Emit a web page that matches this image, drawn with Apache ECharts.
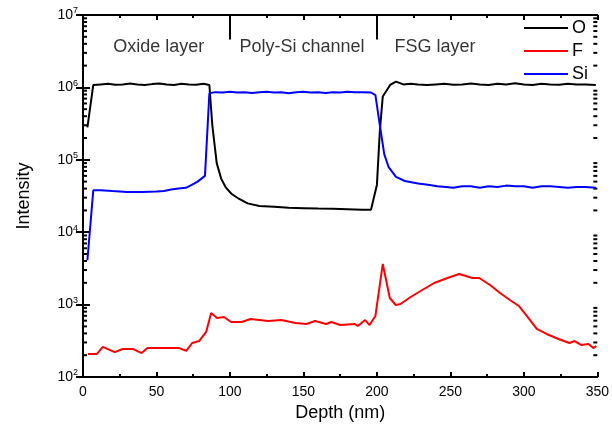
<!DOCTYPE html>
<html>
<head>
<meta charset="utf-8">
<script src="https://cdn.jsdelivr.net/npm/echarts@6/dist/echarts.min.js"></script>
<style>
  html, body { margin: 0; padding: 0; background: #fff; }
  #main { width: 612px; height: 432px; }
</style>
</head>
<body>
<div id="main"></div>
<script>
// depth (nm) / intensity for each element
var oDepth = [3, 7, 12, 17, 22, 27, 32, 37, 42, 47, 52, 57, 62, 67, 72, 77, 82, 86, 88, 91, 94, 97, 101, 106, 112, 120, 130, 140, 150, 160, 170, 180, 190, 196, 200, 202, 204, 209, 213, 218, 223, 228, 234, 240, 246, 252, 258, 264, 270, 276, 282, 288, 294, 300, 306, 312, 318, 324, 330, 336, 342, 349];
var oIntensity = [2.8e5, 1.08e6, 1.1e6, 1.12e6, 1.09e6, 1.1e6, 1.13e6, 1.1e6, 1.08e6, 1.11e6, 1.13e6, 1.1e6, 1.08e6, 1.12e6, 1.1e6, 1.09e6, 1.12e6, 1.08e6, 3.0e5, 9.0e4, 5.5e4, 4.2e4, 3.4e4, 2.9e4, 2.5e4, 2.3e4, 2.25e4, 2.18e4, 2.15e4, 2.12e4, 2.1e4, 2.08e4, 2.05e4, 2.05e4, 4.5e4, 2.5e5, 7.5e5, 1.08e6, 1.2e6, 1.1e6, 1.12e6, 1.1e6, 1.08e6, 1.1e6, 1.12e6, 1.09e6, 1.1e6, 1.13e6, 1.1e6, 1.08e6, 1.12e6, 1.1e6, 1.14e6, 1.1e6, 1.08e6, 1.12e6, 1.1e6, 1.09e6, 1.12e6, 1.1e6, 1.1e6, 1.08e6];

var fDepth = [3.4, 9.5, 13.5, 21.6, 27, 33.8, 39.9, 43.9, 55, 65.5, 70.3, 74.3, 79, 83.8, 87.2, 91.2, 96, 100.7, 108, 114, 126, 135, 144.6, 152, 158, 165.5, 169, 175, 185, 187, 192, 195, 199, 204, 208.8, 212.8, 216, 223, 229.7, 239, 248, 256, 265, 269.6, 277, 283.8, 290.5, 296.6, 302, 308.8, 315.5, 323.6, 331, 334.5, 339, 344, 347.3, 349.3];
var fIntensity = [208, 208, 260, 221, 244, 244, 214, 251, 251, 251, 229, 295, 314, 419, 766, 653, 674, 575, 575, 633, 593, 612, 557, 540, 593, 540, 575, 522, 540, 506, 612, 522, 697, 3640, 1233, 987, 1018, 1273, 1541, 1988, 2330, 2647, 2330, 2330, 1866, 1446, 1158, 957, 697, 461, 393, 335, 295, 314, 277, 286, 251, 268];

var siDepth = [3, 7, 12, 20, 30, 40, 50, 55, 60, 65, 70, 74, 78, 83, 86, 90, 95, 100, 105, 110, 115, 120, 125, 130, 135, 140, 145, 150, 155, 160, 165, 170, 175, 180, 185, 190, 196, 199, 202, 205, 208, 213, 219, 228, 236, 241, 247, 252, 258, 264, 270, 276, 282, 288, 294, 300, 306, 312, 318, 324, 330, 336, 342, 349];
var siIntensity = [4.1e3, 3.8e4, 3.8e4, 3.7e4, 3.6e4, 3.6e4, 3.65e4, 3.7e4, 3.9e4, 4.0e4, 4.1e4, 4.5e4, 5.0e4, 6.0e4, 8.3e5, 8.6e5, 8.5e5, 8.7e5, 8.5e5, 8.6e5, 8.4e5, 8.6e5, 8.7e5, 8.5e5, 8.6e5, 8.3e5, 8.6e5, 8.7e5, 8.5e5, 8.6e5, 8.4e5, 8.6e5, 8.5e5, 8.7e5, 8.6e5, 8.6e5, 8.5e5, 7.8e5, 3.0e5, 1.2e5, 7.9e4, 5.8e4, 5.1e4, 4.7e4, 4.5e4, 4.3e4, 4.2e4, 4.1e4, 4.3e4, 4.3e4, 4.1e4, 4.3e4, 4.2e4, 4.4e4, 4.3e4, 4.3e4, 4.1e4, 4.3e4, 4.3e4, 4.2e4, 4.1e4, 4.2e4, 4.2e4, 4.1e4];

// layer names and where they sit (depth nm, intensity)
var layerNames = ['Oxide layer', 'Poly-Si channel', 'FSG layer'];
var layerDepth = [51.5, 149, 239.5];
var layerIntensity = 3.6e6;
// layer boundaries drawn from the top
var boundaryDepth = [100, 200];

var FONT = '"Liberation Sans", Arial, sans-serif';

function pairs(xs, ys) {
    var d = [];
    for (var i = 0; i < xs.length; i++) {
        d.push([xs[i], ys[i]]);
    }
    return d;
}

// minor ticks of the log axis (2..9 in every decade)
var minorTicks = [];
for (var e = 2; e < 7; e++) {
    for (var m = 2; m <= 9; m++) {
        minorTicks.push([0, m * Math.pow(10, e)]);
    }
}

var myChart = echarts.init(document.getElementById('main'));

var axisLine = { show: true, lineStyle: { color: '#000', width: 2 } };

var option = {
    animation: false,
    textStyle: { fontFamily: FONT },
    grid: { left: 83, right: 11, top: 15, bottom: 55 },
    legend: {
        orient: 'vertical',
        left: 519,
        top: 14,
        icon: 'rect',
        itemWidth: 44,
        itemHeight: 2,
        itemGap: 5,
        textStyle: { fontFamily: FONT, fontSize: 18, color: '#000', padding: [0, 0, 0, -1] },
        data: ['O', 'F', 'Si']
    },
    xAxis: [
        {
            type: 'value', min: 0, max: 350, interval: 50,
            name: 'Depth (nm)', nameLocation: 'middle', nameGap: 23,
            nameTextStyle: { fontFamily: FONT, fontSize: 18, color: '#000' },
            axisLine: axisLine,
            axisTick: { inside: true, length: 5, lineStyle: { color: '#000', width: 2 } },
            minorTick: { show: true, splitNumber: 2, length: 3, lineStyle: { color: '#000', width: 2 } },
            axisLabel: { fontFamily: FONT, fontSize: 14, color: '#000', margin: 8 },
            splitLine: { show: false }
        },
        {
            type: 'value', min: 0, max: 350, interval: 50, position: 'top',
            axisLine: axisLine,
            axisTick: { inside: true, length: 5, lineStyle: { color: '#000', width: 2 } },
            minorTick: { show: true, splitNumber: 2, length: 3, lineStyle: { color: '#000', width: 2 } },
            axisLabel: { show: false },
            splitLine: { show: false }
        }
    ],
    yAxis: [
        {
            type: 'log', min: 100, max: 1e7, logBase: 10,
            name: 'Intensity', nameLocation: 'middle', nameGap: 50,
            nameTextStyle: { fontFamily: FONT, fontSize: 18, color: '#000' },
            axisLine: axisLine,
            axisTick: { inside: true, length: 7, lineStyle: { color: '#000', width: 2 } },
            axisLabel: {
                margin: 5,
                formatter: function (v) {
                    return '{b|10}{s|' + Math.round(Math.log10(v)) + '}';
                },
                rich: {
                    b: { fontFamily: FONT, fontSize: 14, color: '#000' },
                    s: { fontFamily: FONT, fontSize: 9, color: '#000', verticalAlign: 'top', padding: [0, 0, 8, 0] }
                }
            },
            splitLine: { show: false }
        },
        {
            type: 'log', min: 100, max: 1e7, logBase: 10, position: 'right',
            axisLine: axisLine,
            axisTick: { inside: true, length: 7, lineStyle: { color: '#000', width: 2 } },
            axisLabel: { show: false },
            splitLine: { show: false }
        }
    ],
    series: [
        {
            name: 'O', type: 'line', symbol: 'none',
            lineStyle: { color: '#000', width: 2 }, itemStyle: { color: '#000' },
            data: pairs(oDepth, oIntensity),
            markLine: {
                silent: true, symbol: 'none', label: { show: false },
                lineStyle: { color: '#000', width: 2, type: 'solid' },
                data: boundaryDepth.map(function (d) {
                    return [{ coord: [d, 1e7] }, { coord: [d, 4.6e6] }];
                })
            },
            z: 3
        },
        {
            name: 'F', type: 'line', symbol: 'none',
            lineStyle: { color: '#ff0000', width: 2 }, itemStyle: { color: '#ff0000' },
            data: pairs(fDepth, fIntensity)
        },
        {
            name: 'Si', type: 'line', symbol: 'none',
            lineStyle: { color: '#0000ff', width: 2 }, itemStyle: { color: '#0000ff' },
            data: pairs(siDepth, siIntensity)
        },
        {
            // log minor ticks on the left and right frame
            type: 'custom', silent: true,
            data: minorTicks,
            renderItem: function (params, api) {
                var p = api.coord([0, api.value(1)]);
                var cs = params.coordSys;
                var x0 = cs.x, x1 = cs.x + cs.width;
                return {
                    type: 'group',
                    children: [
                        { type: 'line', shape: { x1: x0, y1: p[1], x2: x0 + 4, y2: p[1] }, style: { stroke: '#000', lineWidth: 2 } },
                        { type: 'line', shape: { x1: x1 - 4, y1: p[1], x2: x1, y2: p[1] }, style: { stroke: '#000', lineWidth: 2 } }
                    ]
                };
            }
        },
        {
            // layer names
            type: 'scatter', symbolSize: 0, silent: true,
            data: layerNames.map(function (n, i) { return [layerDepth[i], layerIntensity, n]; }),
            label: {
                show: true, position: 'inside',
                formatter: function (p) { return p.data[2]; },
                fontFamily: FONT, fontSize: 18, color: '#000'
            }
        }
    ]
};

myChart.setOption(option);
</script>
</body>
</html>
